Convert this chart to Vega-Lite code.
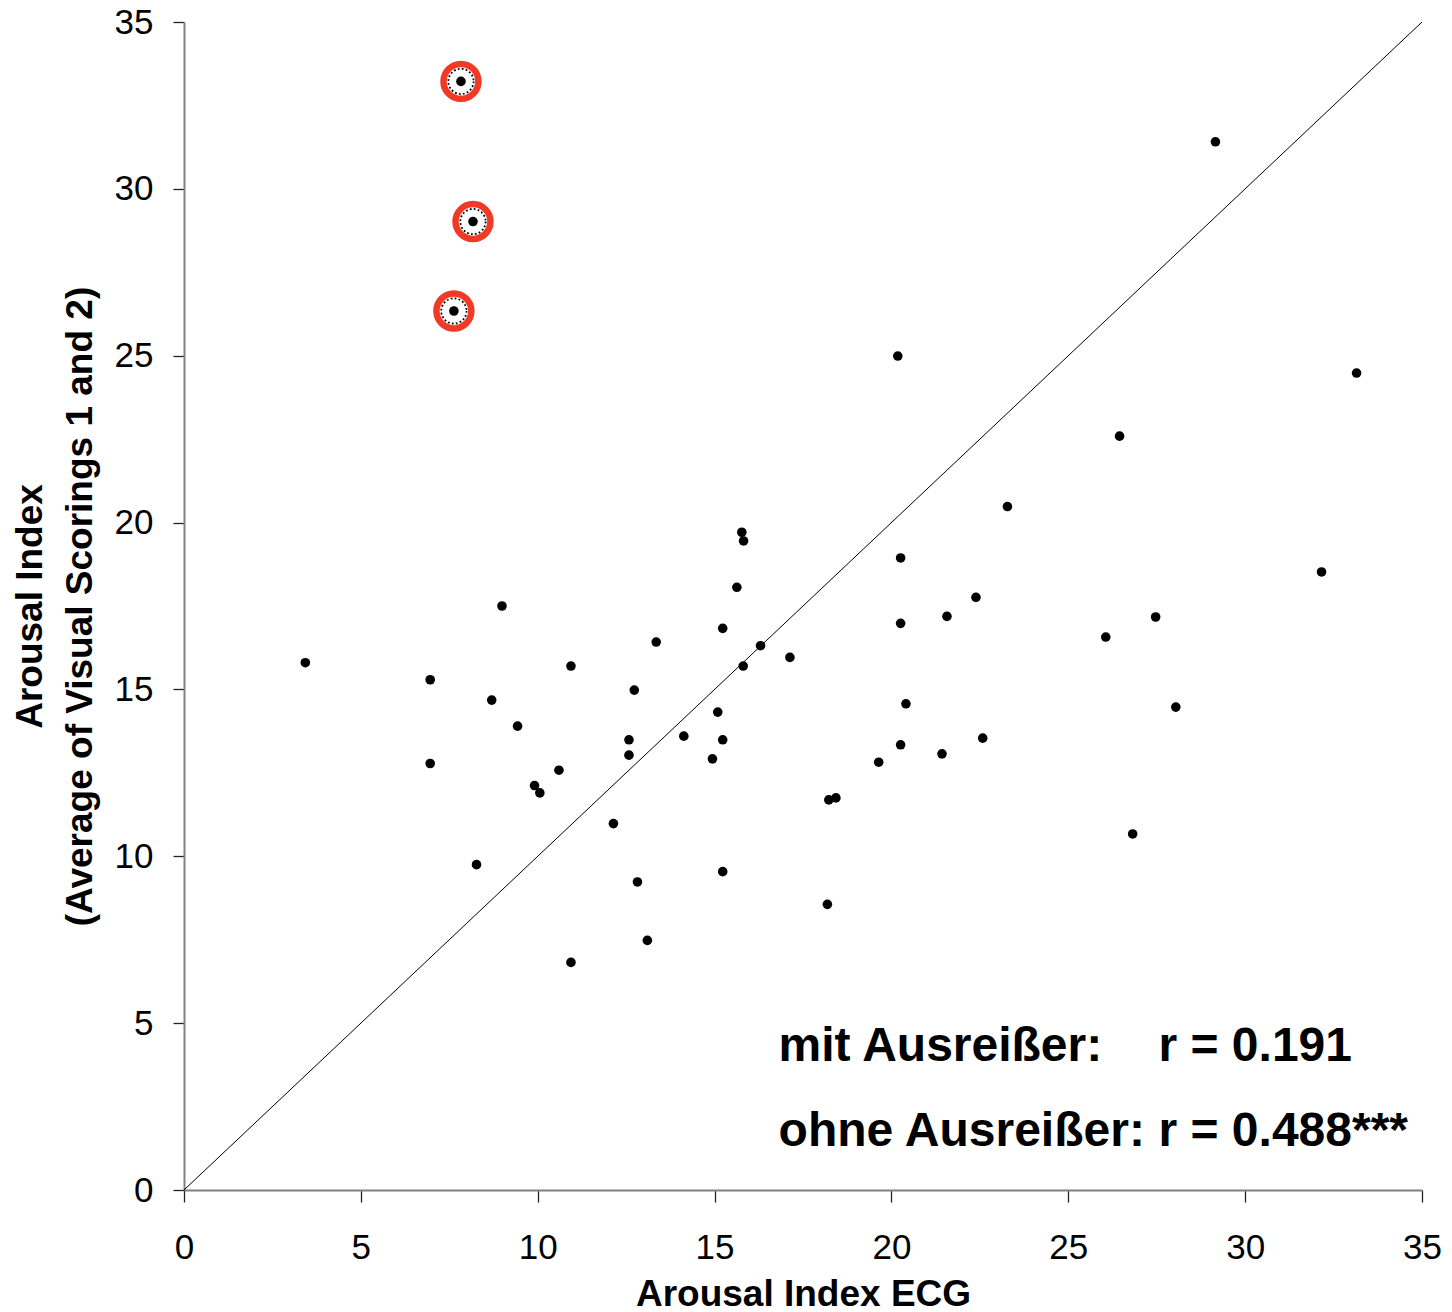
{
  "$schema": "https://vega.github.io/schema/vega-lite/v6.json",
  "width": 1238,
  "height": 1168,
  "autosize": {"type": "none"},
  "padding": {"left": 184, "top": 22, "right": 30, "bottom": 122},
  "background": "white",
  "config": {
    "view": {"stroke": null},
    "font": "Liberation Sans",
    "axis": {
      "grid": false,
      "domainColor": "#808080",
      "domainWidth": 2,
      "tickColor": "#222222",
      "tickWidth": 1.3,
      "labelFont": "Liberation Sans",
      "labelFontSize": 35,
      "labelColor": "black",
      "labelFlush": false,
      "labelOverlap": false,
      "titleFont": "Liberation Sans",
      "titleFontSize": 37,
      "titleFontWeight": "bold",
      "titleColor": "black"
    }
  },
  "datasets": {
    "subjects": [
      {"ecg": 3.43, "visual": 15.80, "outlier": false},
      {"ecg": 6.96, "visual": 15.29, "outlier": false},
      {"ecg": 6.96, "visual": 12.78, "outlier": false},
      {"ecg": 8.27, "visual": 9.75, "outlier": false},
      {"ecg": 8.99, "visual": 17.50, "outlier": false},
      {"ecg": 8.70, "visual": 14.68, "outlier": false},
      {"ecg": 9.43, "visual": 13.90, "outlier": false},
      {"ecg": 9.91, "visual": 12.12, "outlier": false},
      {"ecg": 10.06, "visual": 11.90, "outlier": false},
      {"ecg": 10.60, "visual": 12.58, "outlier": false},
      {"ecg": 10.94, "visual": 15.70, "outlier": false},
      {"ecg": 10.94, "visual": 6.82, "outlier": false},
      {"ecg": 12.14, "visual": 10.98, "outlier": false},
      {"ecg": 12.58, "visual": 13.49, "outlier": false},
      {"ecg": 12.58, "visual": 13.03, "outlier": false},
      {"ecg": 12.73, "visual": 14.98, "outlier": false},
      {"ecg": 12.82, "visual": 9.23, "outlier": false},
      {"ecg": 13.10, "visual": 7.48, "outlier": false},
      {"ecg": 13.35, "visual": 16.42, "outlier": false},
      {"ecg": 14.13, "visual": 13.60, "outlier": false},
      {"ecg": 14.94, "visual": 12.92, "outlier": false},
      {"ecg": 15.09, "visual": 14.32, "outlier": false},
      {"ecg": 15.23, "visual": 16.83, "outlier": false},
      {"ecg": 15.23, "visual": 13.49, "outlier": false},
      {"ecg": 15.23, "visual": 9.54, "outlier": false},
      {"ecg": 15.63, "visual": 18.06, "outlier": false},
      {"ecg": 15.77, "visual": 19.71, "outlier": false},
      {"ecg": 15.82, "visual": 19.45, "outlier": false},
      {"ecg": 15.81, "visual": 15.70, "outlier": false},
      {"ecg": 16.30, "visual": 16.31, "outlier": false},
      {"ecg": 17.13, "visual": 15.96, "outlier": false},
      {"ecg": 18.19, "visual": 8.56, "outlier": false},
      {"ecg": 18.23, "visual": 11.69, "outlier": false},
      {"ecg": 18.43, "visual": 11.75, "outlier": false},
      {"ecg": 19.64, "visual": 12.82, "outlier": false},
      {"ecg": 20.18, "visual": 24.99, "outlier": false},
      {"ecg": 20.26, "visual": 18.94, "outlier": false},
      {"ecg": 20.26, "visual": 16.98, "outlier": false},
      {"ecg": 20.26, "visual": 13.34, "outlier": false},
      {"ecg": 20.41, "visual": 14.57, "outlier": false},
      {"ecg": 21.43, "visual": 13.07, "outlier": false},
      {"ecg": 21.57, "visual": 17.19, "outlier": false},
      {"ecg": 22.39, "visual": 17.76, "outlier": false},
      {"ecg": 22.58, "visual": 13.54, "outlier": false},
      {"ecg": 23.28, "visual": 20.48, "outlier": false},
      {"ecg": 26.06, "visual": 16.57, "outlier": false},
      {"ecg": 26.45, "visual": 22.59, "outlier": false},
      {"ecg": 26.82, "visual": 10.67, "outlier": false},
      {"ecg": 27.47, "visual": 17.17, "outlier": false},
      {"ecg": 28.04, "visual": 14.47, "outlier": false},
      {"ecg": 29.16, "visual": 31.41, "outlier": false},
      {"ecg": 32.16, "visual": 18.52, "outlier": false},
      {"ecg": 33.15, "visual": 24.48, "outlier": false},
      {"ecg": 7.83, "visual": 33.22, "outlier": true},
      {"ecg": 8.17, "visual": 29.02, "outlier": true},
      {"ecg": 7.63, "visual": 26.34, "outlier": true}
    ]
  },
  "layer": [
    {
      "data": {"values": [{}]},
      "mark": {"type": "rule", "color": "black", "strokeWidth": 1},
      "encoding": {
        "x": {"datum": 0, "type": "quantitative"},
        "y": {"datum": 0, "type": "quantitative"},
        "x2": {"datum": 35},
        "y2": {"datum": 35}
      }
    },
    {
      "data": {"name": "subjects"},
      "transform": [{"filter": "datum.outlier"}],
      "mark": {"type": "point", "filled": false, "stroke": "#f03a26", "strokeWidth": 6.5, "size": 1220, "opacity": 1},
      "encoding": {
        "x": {"field": "ecg", "type": "quantitative"},
        "y": {"field": "visual", "type": "quantitative"}
      }
    },
    {
      "data": {"name": "subjects"},
      "transform": [{"filter": "datum.outlier"}],
      "mark": {"type": "point", "filled": false, "stroke": "black", "strokeWidth": 1.8, "strokeDash": [1.8, 2.2], "size": 640, "opacity": 1},
      "encoding": {
        "x": {"field": "ecg", "type": "quantitative"},
        "y": {"field": "visual", "type": "quantitative"}
      }
    },
    {
      "data": {"name": "subjects"},
      "mark": {"type": "circle", "color": "black", "size": 92, "opacity": 1},
      "encoding": {
        "x": {
          "field": "ecg",
          "type": "quantitative",
          "scale": {"domain": [0, 35], "nice": false, "zero": true},
          "axis": {
            "title": "Arousal Index ECG",
            "values": [0, 5, 10, 15, 20, 25, 30, 35],
            "tickSize": 12,
            "labelPadding": 28,
            "titlePadding": 11
          }
        },
        "y": {
          "field": "visual",
          "type": "quantitative",
          "scale": {"domain": [0, 35], "nice": false, "zero": true},
          "axis": {
            "title": ["Arousal Index", "(Average of Visual Scorings 1 and 2)"],
            "titleLineHeight": 50,
            "values": [0, 5, 10, 15, 20, 25, 30, 35],
            "tickSize": 11,
            "labelPadding": 20,
            "titlePadding": 15
          }
        }
      }
    },
    {
      "data": {"values": [{}]},
      "mark": {"type": "text", "align": "left", "baseline": "alphabetic", "font": "Liberation Sans", "fontSize": 48, "fontWeight": "bold", "color": "black", "text": "mit Ausreißer:"},
      "encoding": {
        "x": {"datum": 16.81, "type": "quantitative"},
        "y": {"datum": 3.87, "type": "quantitative"}
      }
    },
    {
      "data": {"values": [{}]},
      "mark": {"type": "text", "align": "left", "baseline": "alphabetic", "font": "Liberation Sans", "fontSize": 48, "fontWeight": "bold", "color": "black", "text": "r = 0.191"},
      "encoding": {
        "x": {"datum": 27.55, "type": "quantitative"},
        "y": {"datum": 3.87, "type": "quantitative"}
      }
    },
    {
      "data": {"values": [{}]},
      "mark": {"type": "text", "align": "left", "baseline": "alphabetic", "font": "Liberation Sans", "fontSize": 48, "fontWeight": "bold", "color": "black", "text": "ohne Ausreißer:"},
      "encoding": {
        "x": {"datum": 16.81, "type": "quantitative"},
        "y": {"datum": 1.32, "type": "quantitative"}
      }
    },
    {
      "data": {"values": [{}]},
      "mark": {"type": "text", "align": "left", "baseline": "alphabetic", "font": "Liberation Sans", "fontSize": 48, "fontWeight": "bold", "color": "black", "text": "r = 0.488***"},
      "encoding": {
        "x": {"datum": 27.55, "type": "quantitative"},
        "y": {"datum": 1.32, "type": "quantitative"}
      }
    }
  ]
}
